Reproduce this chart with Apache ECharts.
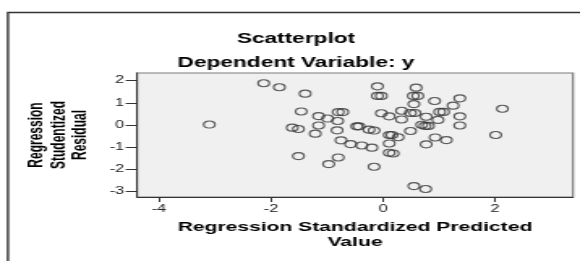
<!DOCTYPE html>
<html>
<head>
<meta charset="utf-8">
<script src="https://cdn.jsdelivr.net/npm/echarts@6/dist/echarts.min.js"></script>
<style>
    html, body { margin: 0; padding: 0; background: #fff; overflow: hidden; }
    /* the reference picture is stretched sideways, so the chart is drawn narrow and widened */
    #scatter { width: 358px; height: 261px; transform: scaleX(1.62); transform-origin: 0 0; }
</style>
</head>
<body>
<div id="scatter"></div>
<script>
// regression standardized predicted value
var predicted = [
    -3.10, -2.13, -1.85, -1.39, -1.46, -1.62, -1.51, -1.51, -1.15, -0.99,
    -1.15, -1.21, -0.80, -0.72, -0.81, -0.82, -0.75, -0.58, -0.38, -0.20,
    -0.80, -0.97, -0.47, -0.43, -0.25, -0.16, -0.16, -0.10, -0.10, -0.03,
    -0.03, 0.11, 0.33, 0.33, 0.11, 0.16, 0.27, 0.11, 0.11, 0.18,
    0.49, 0.49, 0.57, 0.54, 0.62, 0.59, 0.55, 0.77, 0.69, 0.75,
    0.81, 0.77, 0.92, 0.98, 1.01, 1.08, 1.25, 1.37, 1.37, 1.37,
    1.13, 0.93, 0.55, 0.76, 2.13, 2.01
];
// regression studentized residual
var residual = [
    0.02, 1.88, 1.70, 1.41, 0.61, -0.12, -0.18, -1.40, 0.40, 0.29,
    -0.02, -0.39, 0.58, 0.58, 0.18, -0.24, -0.69, -0.86, -0.92, -1.02,
    -1.46, -1.76, -0.06, -0.06, -0.21, -0.25, -1.88, 1.74, 1.31, 1.31,
    0.53, 0.39, 0.64, 0.25, -0.45, -0.45, -0.55, -0.83, -1.25, -1.28,
    -0.27, 0.54, 0.54, 1.31, 1.31, 1.68, 0.94, 0.37, 0.01, -0.04,
    -0.04, -0.87, 1.08, 0.23, 0.59, 0.59, 0.87, 1.20, 0.39, -0.02,
    -0.68, -0.56, -2.75, -2.88, 0.73, -0.45
];
var xTicks = [-4, -2, 0, 2];
var yTicks = [-3, -2, -1, 0, 1, 2];

var font = '"Liberation Sans", Arial, sans-serif';

var points = [];
for (var i = 0; i < predicted.length; i++) {
    points.push([predicted[i], residual[i]]);
}

var chart = echarts.init(document.getElementById('scatter'));

var option = {
    animation: false,
    backgroundColor: '#fff',
    graphic: [
        // outer frame, top and left sides only
        {
            type: 'polyline',
            shape: { points: [[4.9, 261], [4.9, 12.5], [358, 12.5]] },
            style: { stroke: '#333', lineWidth: 1.4, fill: null }
        },
        {
            type: 'text', x: 182.7, y: 39,
            style: { text: 'Scatterplot', align: 'center', verticalAlign: 'middle',
                     font: 'bold 14px ' + font, fill: '#000' }
        },
        {
            type: 'text', x: 182.7, y: 63,
            style: { text: 'Dependent Variable: y', align: 'center', verticalAlign: 'middle',
                     font: 'bold 14px ' + font, fill: '#000' }
        }
    ],
    grid: {
        left: 84.6,
        right: 4.3,
        top: 73,
        bottom: 64,
        show: true,
        backgroundColor: '#f0f0f0',
        borderColor: '#7a7a7a',
        borderWidth: 1.2
    },
    xAxis: {
        type: 'value',
        min: -4.39,
        max: 3.39,
        name: 'Regression Standardized Predicted\nValue',
        nameLocation: 'middle',
        nameGap: 23,
        nameTextStyle: { fontFamily: font, fontWeight: 'bold', fontSize: 13, lineHeight: 15, color: '#000' },
        axisLine: { onZero: false, lineStyle: { color: '#333', width: 1 } },
        axisTick: { show: true, length: 5, customValues: xTicks, lineStyle: { color: '#333' } },
        axisLabel: { customValues: xTicks, fontFamily: font, fontSize: 10, color: '#222', margin: 7 },
        splitLine: { show: false }
    },
    yAxis: {
        type: 'value',
        min: -3.24,
        max: 2.34,
        name: 'Regression\nStudentized\nResidual',
        nameLocation: 'middle',
        nameRotate: 90,
        nameGap: 26,
        nameTextStyle: { fontFamily: font, fontWeight: 'bold', fontSize: 12, lineHeight: 13.5, color: '#000' },
        axisLine: { show: true, onZero: false, lineStyle: { color: '#333', width: 1 } },
        axisTick: { show: true, length: 7, customValues: yTicks, lineStyle: { color: '#333' } },
        axisLabel: { customValues: yTicks, fontFamily: font, fontSize: 10, color: '#222', margin: 8 },
        splitLine: { show: false }
    },
    series: [
        {
            type: 'scatter',
            data: points,
            symbol: 'circle',
            symbolSize: 7,
            itemStyle: { color: 'rgba(0,0,0,0)', borderColor: '#333', borderWidth: 1.1 }
        }
    ]
};
chart.setOption(option);
</script>
</body>
</html>
